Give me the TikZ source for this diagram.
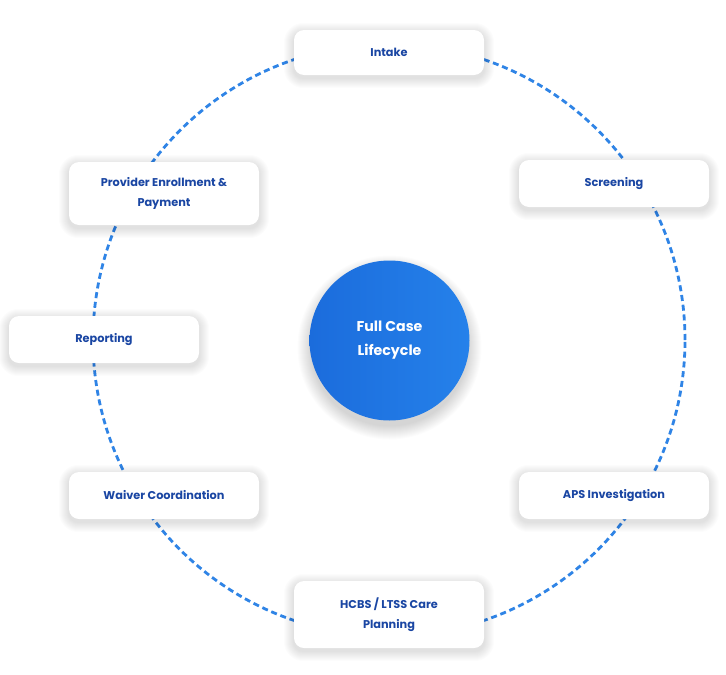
\documentclass[tikz,border=0pt]{standalone}
\usepackage{fontspec}
\setmainfont{Poppins}
\definecolor{txtblue}{HTML}{1A46A3}
\definecolor{dashblue}{HTML}{2F84E6}
\definecolor{circA}{HTML}{1B6CDC}
\definecolor{circB}{HTML}{2581EA}
\pgfdeclarelayer{bglayer}
\pgfdeclarelayer{shadowlayer}
\pgfdeclarelayer{ringlayer}
\pgfsetlayers{bglayer,ringlayer,shadowlayer,main}
\tikzset{
  stage/.style={draw=none, fill=white, rounded corners=10pt, minimum width=190pt,
    align=center, font=\bfseries\fontsize{11.3}{20}\selectfont, text=txtblue},
  ring/.style={draw=dashblue, line width=2.8pt, dash pattern=on 6pt off 3.8pt},
  hub/.style={circle, minimum size=160pt, inner sep=0pt, left color=circA, right color=circB,
    text=white, align=center, font=\bfseries\fontsize{14.2}{24}\selectfont},
  shadestep/.style={fill=black, fill opacity=0.011, draw=none}
}
\newcommand{\boxshadow}[1]{%
  \begin{pgfonlayer}{shadowlayer}
  \foreach \k in {1,...,10}{
    \fill[shadestep, rounded corners=10pt+\k pt]
      ([xshift=-\k pt, yshift=-\k pt-3pt]#1.south west) rectangle ([xshift=\k pt, yshift=\k pt-3pt]#1.north east);
  }
  \end{pgfonlayer}}
\begin{document}
\begin{tikzpicture}[x=1pt,y=-1pt]
\begin{pgfonlayer}{bglayer}
\fill[white] (0,0) rectangle (726,675);
\end{pgfonlayer}
\useasboundingbox (0,0) rectangle (726,675);
\coordinate (c) at (389,340);
\begin{pgfonlayer}{ringlayer}
\draw[ring] (c) circle[radius=296pt];
\end{pgfonlayer}
\node[hub] (hub) at (389.5,340.5) {Full Case\\Lifecycle};
\begin{pgfonlayer}{shadowlayer}
\foreach \k in {1,...,14}{
  \fill[shadestep, fill opacity=0.011] ([yshift=-7pt]hub.center) circle[radius=78pt+\k pt];
}
\end{pgfonlayer}
\node[stage, minimum height=45pt] (intake) at (389,52.5) {Intake};
\node[stage, minimum height=47pt] (screen) at (614,183.5) {Screening};
\node[stage, minimum height=47pt] (aps) at (614,495.5) {APS Investigation};
\node[stage, minimum height=67pt] (hcbs) at (389,614.5) {HCBS / LTSS Care\\Planning};
\node[stage, minimum height=47pt] (waiver) at (164,495.5) {Waiver Coordination};
\node[stage, minimum height=47pt] (report) at (104,339.5) {Reporting};
\node[stage, minimum height=63pt] (prov) at (164,193.5) {Provider Enrollment \&\\Payment};
\foreach \n in {intake,screen,aps,hcbs,waiver,report,prov}{\boxshadow{\n}}
\end{tikzpicture}
\end{document}
